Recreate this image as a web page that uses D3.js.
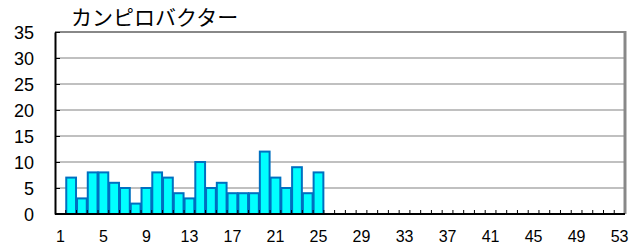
<!DOCTYPE html>
<html>
<head>
<meta charset="utf-8">
<script src="https://cdn.jsdelivr.net/npm/d3@7"></script>
<style>
  body { margin: 0; background: #fff; }
  .tick text { font-family: "Liberation Sans", Arial, sans-serif; fill: #000; }
</style>
</head>
<body>
<div id="chart"></div>
<script>
// weekly counts, weeks 1..53 (blank = no report yet)
var title = "カンピロバクター";
var weeks = d3.range(1, 54);
var counts = [null, 7, 3, 8, 8, 6, 5, 2, 5, 8, 7, 4, 3, 10, 5, 6, 4, 4, 4, 12, 7, 5, 9, 4, 8];
var yTicks = [0, 5, 10, 15, 20, 25, 30, 35];
var xLabels = [1, 5, 9, 13, 17, 21, 25, 29, 33, 37, 41, 45, 49, 53];

var W = 630, H = 249,
    m = [32, 5, 35, 55]; // top right bottom left

var svg = d3.select("#chart").append("svg")
    .attr("width", W)
    .attr("height", H);

var x = d3.scaleBand()
    .domain(weeks)
    .range([m[3], W - m[1]])
    .padding(0);

var y = d3.scaleLinear()
    .domain([0, 35])
    .range([H - m[2], m[0]]);

var data = weeks.map(function(w, i) {
  return {week: w, value: counts[i] == null ? null : counts[i]};
}).filter(function(d) { return d.value != null; });

// gridlines
svg.append("g").selectAll("line")
  .data(yTicks.filter(function(t) { return t > 0 && t < 35; }))
  .enter().append("line")
  .attr("x1", m[3])
  .attr("x2", W - m[1])
  .attr("y1", function(d) { return y(d); })
  .attr("y2", function(d) { return y(d); })
  .attr("stroke", "#c0c0c0")
  .attr("stroke-width", 2);

// top + right frame
svg.append("line")
  .attr("x1", m[3]).attr("x2", W - m[1])
  .attr("y1", m[0]).attr("y2", m[0])
  .attr("stroke", "#888").attr("stroke-width", 2);
svg.append("line")
  .attr("x1", W - m[1]).attr("x2", W - m[1])
  .attr("y1", m[0] - 1).attr("y2", H - m[2])
  .attr("stroke", "#888").attr("stroke-width", 3);

// bars
svg.append("g").selectAll("rect")
  .data(data)
  .enter().append("rect")
  .attr("x", function(d) { return x(d.week) + 0.5; })
  .attr("width", x.bandwidth() - 1)
  .attr("y", function(d) { return y(d.value); })
  .attr("height", function(d) { return y(0) - y(d.value); })
  .attr("fill", "#00ffff")
  .attr("stroke", "#0070c0")
  .attr("stroke-width", 2);

// y axis
var yAxis = d3.axisLeft(y)
  .tickValues(yTicks)
  .tickSizeInner(-5)
  .tickSizeOuter(0)
  .tickPadding(21);

svg.append("g")
  .attr("transform", "translate(" + m[3] + ",0)")
  .call(yAxis)
  .call(function(g) {
    g.select(".domain").attr("stroke", "#000").attr("stroke-width", 2);
    g.selectAll(".tick line").attr("stroke", "#000");
    g.selectAll(".tick text").attr("font-size", 18).attr("dy", "0.35em");
  });

// x axis: ticks at band boundaries, labels every 4 weeks
var xAxisG = svg.append("g")
  .attr("transform", "translate(0," + y(0) + ")");

xAxisG.append("line")
  .attr("x1", m[3]).attr("x2", W - m[1])
  .attr("stroke", "#000").attr("stroke-width", 2);

xAxisG.selectAll(".btick")
  .data(weeks.slice(1))
  .enter().append("line")
  .attr("class", "btick")
  .attr("x1", function(d) { return x(d); })
  .attr("x2", function(d) { return x(d); })
  .attr("y1", 0).attr("y2", -4)
  .attr("stroke", "#000");

xAxisG.selectAll(".xlab")
  .data(xLabels)
  .enter().append("text")
  .attr("class", "xlab")
  .attr("x", function(d) { return x(d) + x.bandwidth() / 2; })
  .attr("y", 28)
  .attr("text-anchor", "middle")
  .attr("font-family", "'Liberation Sans', Arial, sans-serif")
  .attr("font-size", 16)
  .text(function(d) { return d; });

// title
svg.append("text")
  .attr("x", 71)
  .attr("y", 25)
  .attr("font-family", "'Noto Sans CJK JP', sans-serif")
  .attr("font-size", 21)
  .text(title);
</script>
</body>
</html>
